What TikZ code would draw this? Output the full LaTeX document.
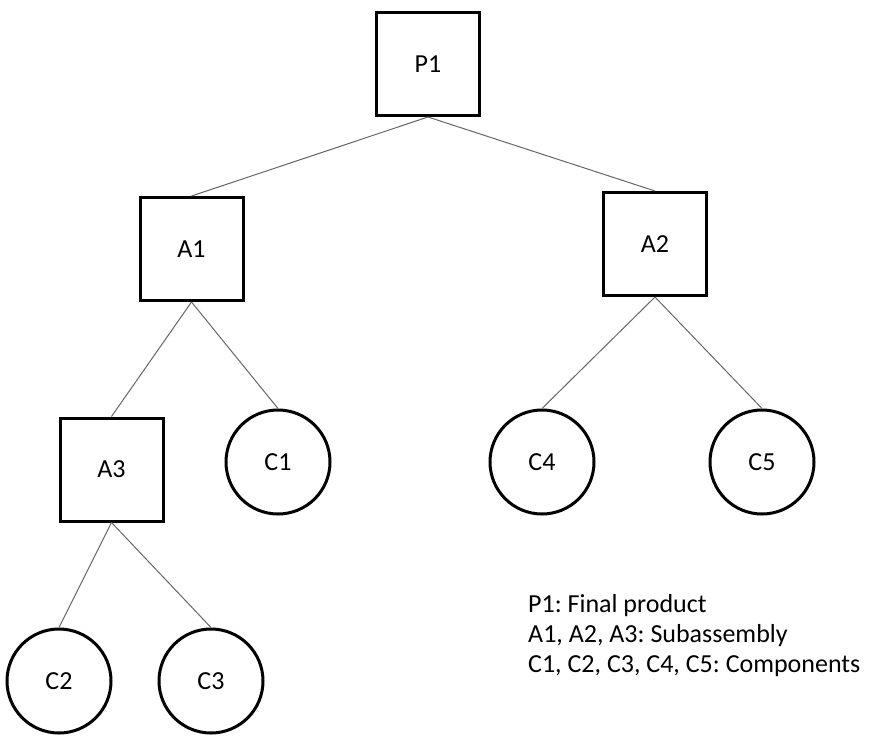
\documentclass[tikz,border=0pt]{standalone}
\usepackage{fontspec}
\setmainfont{Carlito}
\frenchspacing
\begin{document}
\begin{tikzpicture}[x=1pt,y=-1pt,
  box/.style={draw, line width=3pt, minimum width=103pt, minimum height=103pt, inner sep=0pt, font=\fontsize{26}{30}\selectfont},
  comp/.style={circle, draw, line width=3pt, minimum size=104pt, inner sep=0pt, font=\fontsize{26}{30}\selectfont},
  link/.style={draw=black!60, line width=1pt},
  legend/.style={anchor=base west, inner sep=0pt, font=\fontsize{26}{30}\selectfont\frenchspacing}]
\useasboundingbox (0,0) rectangle (870,737);
\node[box] (P1) at (428,64) {P1};
\node[box] (A1) at (191.5,249) {A1};
\node[box] (A2) at (655,244) {A2};
\node[box] (A3) at (111.5,469.5) {A3};
\node[comp] (C1) at (278,462) {C1};
\node[comp] (C4) at (542,462) {C4};
\node[comp] (C5) at (762,462) {C5};
\node[comp] (C2) at (59,681) {C2};
\node[comp] (C3) at (211,681) {C3};
\draw[link] (P1.south) -- (A1.north);
\draw[link] (P1.south) -- (A2.north);
\draw[link] (A1.south) -- (A3.north);
\draw[link] (A1.south) -- (C1.north);
\draw[link] (A2.south) -- (C4.north);
\draw[link] (A2.south) -- (C5.north);
\draw[link] (A3.south) -- (C2.north);
\draw[link] (A3.south) -- (C3.north);
\node[legend] (L1) at (528,612) {P1: Final product};
\node[legend] (L2) at (528,642) {A1, A2, A3: Subassembly};
\node[legend] (L3) at (528,672) {C1, C2, C3, C4, C5: Components};
\end{tikzpicture}
\end{document}
